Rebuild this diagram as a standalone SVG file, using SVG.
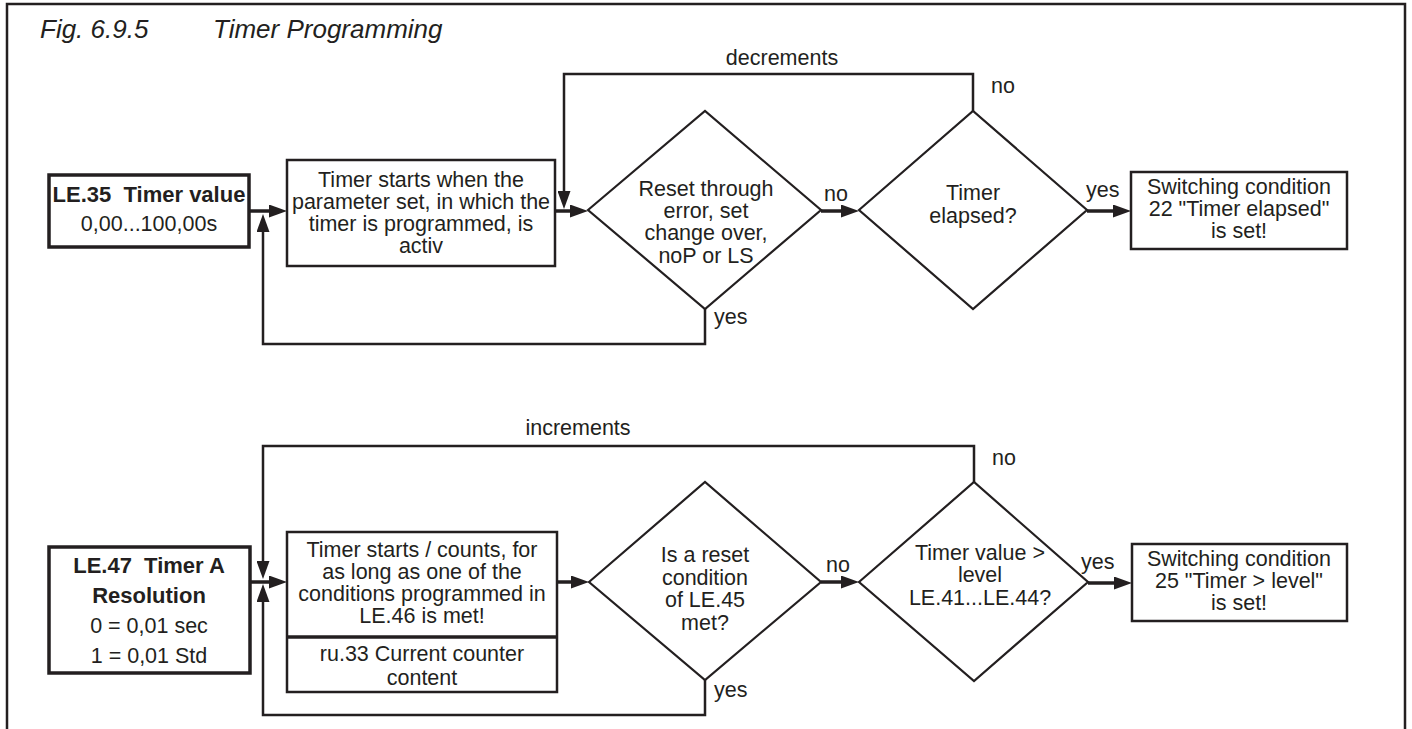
<svg xmlns="http://www.w3.org/2000/svg" width="1412" height="729" viewBox="0 0 1412 729">
<style>
text{font-family:"Liberation Sans",Arial,sans-serif;font-size:21.5px;fill:#231f20}
.c{text-anchor:middle}
.b{font-weight:bold;font-size:22px}
.t{font-style:italic;font-size:26px}
.box{fill:#fff;stroke:#231f20;stroke-width:2.5}
.bx{fill:#fff;stroke:#231f20;stroke-width:3.5}
.dia{fill:#fff;stroke:#231f20;stroke-width:2.2}
.ar{fill:none;stroke:#231f20;stroke-width:3.5;marker-end:url(#ah)}
.lp{fill:none;stroke:#231f20;stroke-width:2.5;marker-end:url(#ah)}
</style>
<defs>
<marker id="ah" viewBox="0 0 18 13" refX="1" refY="6.5" markerWidth="18" markerHeight="13" markerUnits="userSpaceOnUse" orient="auto">
<path d="M0,0 L18,6.5 L0,13 z" fill="#231f20"/>
</marker>
</defs>
<rect width="1412" height="729" fill="#fff"/>
<path d="M7,729 V4 H1405 V729" fill="none" stroke="#231f20" stroke-width="2.5"/>
<text class="t" x="40" y="38">Fig. 6.9.5</text>
<text class="t" x="213" y="38">Timer Programming</text>

<g id="connectors">
<line class="ar" x1="249" y1="211" x2="270" y2="211"/>
<line class="ar" x1="554" y1="211" x2="571" y2="211"/>
<line class="ar" x1="821" y1="211" x2="842" y2="211"/>
<line class="ar" x1="1087" y1="211" x2="1114" y2="211"/>
<polyline class="lp" points="973,111 973,74 564,74 564,192"/>
<polyline class="lp" points="705,309 705,344 263,344 263,231"/>
<line class="ar" x1="250" y1="582" x2="270" y2="582"/>
<line class="ar" x1="557" y1="582" x2="572" y2="582"/>
<line class="ar" x1="821" y1="582" x2="842" y2="582"/>
<line class="ar" x1="1088" y1="583" x2="1115" y2="583"/>
<polyline class="lp" points="974,482 974,446 263,446 263,562"/>
<polyline class="lp" points="705,680 705,715 263,715 263,601"/>
<text class="c" x="782" y="65">decrements</text>
<text x="991" y="93">no</text>
<text class="c" x="836" y="201">no</text>
<text x="714" y="324">yes</text>
<text x="1086" y="197">yes</text>
<text class="c" x="578" y="435">increments</text>
<text x="992" y="465">no</text>
<text class="c" x="838" y="572">no</text>
<text x="714" y="697">yes</text>
<text x="1081" y="569">yes</text>
</g>

<g id="le35">
<rect class="bx" x="49" y="175" width="200" height="72"/>
<text class="c b" x="149" y="202">LE.35&#160; Timer value</text>
<text class="c" x="149" y="231">0,00...100,00s</text>
</g>
<g id="start1">
<rect class="box" x="287" y="160" width="268" height="106"/>
<text class="c" x="421" y="187">Timer starts when the</text>
<text class="c" x="421" y="209">parameter set, in which the</text>
<text class="c" x="421" y="231">timer is programmed, is</text>
<text class="c" x="421" y="253">activ</text>
</g>
<g id="reset1">
<polygon class="dia" points="588,210 705,111 821,210 705,309"/>
<text class="c" x="706" y="196">Reset through</text>
<text class="c" x="706" y="218">error, set</text>
<text class="c" x="706" y="240">change over,</text>
<text class="c" x="706" y="263">noP or LS</text>
</g>
<g id="elapsed">
<polygon class="dia" points="859,210 973,111 1087,210 973,309"/>
<text class="c" x="973" y="200">Timer</text>
<text class="c" x="973" y="223">elapsed?</text>
</g>
<g id="sw22">
<rect class="box" x="1131" y="172" width="216" height="77"/>
<text class="c" x="1239" y="194">Switching condition</text>
<text class="c" x="1239" y="216">22 "Timer elapsed"</text>
<text class="c" x="1239" y="238">is set!</text>
</g>

<g id="le47">
<rect class="bx" x="49" y="547" width="201" height="126"/>
<text class="c b" x="149" y="573">LE.47&#160; Timer A</text>
<text class="c b" x="149" y="603">Resolution</text>
<text class="c" x="149" y="633">0 = 0,01 sec</text>
<text class="c" x="149" y="663">1 = 0,01 Std</text>
</g>
<g id="start2">
<rect class="box" x="287" y="532" width="270" height="160"/>
<line x1="287" y1="637" x2="557" y2="637" stroke="#231f20" stroke-width="3.5"/>
<text class="c" x="422" y="557">Timer starts / counts, for</text>
<text class="c" x="422" y="579">as long as one of the</text>
<text class="c" x="422" y="601">conditions programmed in</text>
<text class="c" x="422" y="623">LE.46 is met!</text>
<text class="c" x="422" y="661">ru.33 Current counter</text>
<text class="c" x="422" y="685">content</text>
</g>
<g id="reset2">
<polygon class="dia" points="589,582 705,482 821,582 705,680"/>
<text class="c" x="705" y="562">Is a reset</text>
<text class="c" x="705" y="585">condition</text>
<text class="c" x="705" y="607">of LE.45</text>
<text class="c" x="705" y="630">met?</text>
</g>
<g id="level">
<polygon class="dia" points="859,582 974,482 1088,582 974,681"/>
<text class="c" x="980" y="560">Timer value &gt;</text>
<text class="c" x="980" y="582">level</text>
<text class="c" x="980" y="605">LE.41...LE.44?</text>
</g>
<g id="sw25">
<rect class="box" x="1132" y="544" width="215" height="77"/>
<text class="c" x="1239" y="566">Switching condition</text>
<text class="c" x="1239" y="588">25 "Timer &gt; level"</text>
<text class="c" x="1239" y="610">is set!</text>
</g>
</svg>
